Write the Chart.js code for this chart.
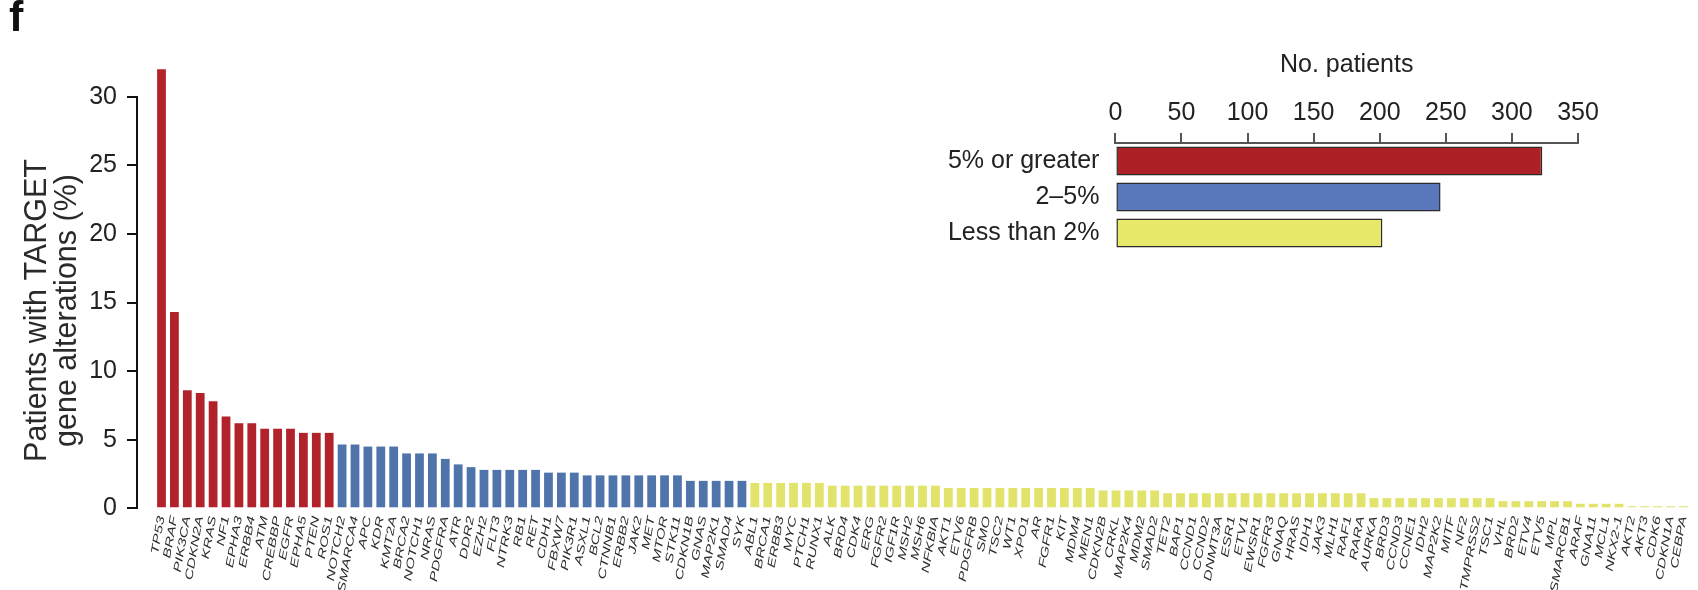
<!DOCTYPE html>
<html>
<head>
<meta charset="utf-8">
<script src="https://cdn.jsdelivr.net/npm/chart.js@4.4.1/dist/chart.umd.min.js"></script>
<style>
  html, body { margin: 0; padding: 0; background: #ffffff; }
  #wrap { position: relative; width: 1698px; height: 590px; overflow: hidden; }
  #main { position: absolute; left: 0; top: 0; }
  #inset { position: absolute; left: 860px; top: 40px; }
  #panel { position: absolute; left: 9px; top: -5px; font: bold 43px/42px "Liberation Sans", Arial, sans-serif; color: #111; }
</style>
</head>
<body>
<div id="wrap">
  <canvas id="main" width="1698" height="590"></canvas>
  <canvas id="inset" width="780" height="250"></canvas>
  <div id="panel">f</div>
</div>
<script>
// Genes with TARGET alterations, grouped by how often they are altered
const genesHigh = ['TP53', 'BRAF', 'PIK3CA', 'CDKN2A', 'KRAS', 'NF1', 'EPHA3', 'ERBB4', 'ATM', 'CREBBP', 'EGFR', 'EPHA5', 'PTEN', 'ROS1'];
const valuesHigh = [32.0, 14.3, 8.6, 8.4, 7.8, 6.7, 6.2, 6.2, 5.8, 5.8, 5.8, 5.5, 5.5, 5.5];

const genesMid = ['NOTCH2', 'SMARCA4', 'APC', 'KDR', 'KMT2A', 'BRCA2', 'NOTCH1', 'NRAS', 'PDGFRA', 'ATR', 'DDR2', 'EZH2', 'FLT3', 'NTRK3', 'RB1', 'RET', 'CDH1', 'FBXW7', 'PIK3R1', 'ASXL1', 'BCL2', 'CTNNB1', 'ERBB2', 'JAK2', 'MET', 'MTOR', 'STK11', 'CDKN1B', 'GNAS', 'MAP2K1', 'SMAD4', 'SYK'];
const valuesMid = [4.65, 4.65, 4.5, 4.5, 4.5, 4.0, 4.0, 4.0, 3.6, 3.2, 3.0, 2.8, 2.8, 2.8, 2.8, 2.8, 2.6, 2.6, 2.6, 2.4, 2.4, 2.4, 2.4, 2.4, 2.4, 2.4, 2.4, 2.0, 2.0, 2.0, 2.0, 2.0];

const genesLow = ['ABL1', 'BRCA1', 'ERBB3', 'MYC', 'PTCH1', 'RUNX1', 'ALK', 'BRD4', 'CDK4', 'ERG', 'FGFR2', 'IGF1R', 'MSH2', 'MSH6', 'NFKBIA', 'AKT1', 'ETV6', 'PDGFRB', 'SMO', 'TSC2', 'WT1', 'XPO1', 'AR', 'FGFR1', 'KIT', 'MDM4', 'MEN1', 'CDKN2B', 'CRKL', 'MAP2K4', 'MDM2', 'SMAD2', 'TET2', 'BAP1', 'CCND1', 'CCND2', 'DNMT3A', 'ESR1', 'ETV1', 'EWSR1', 'FGFR3', 'GNAQ', 'HRAS', 'IDH1', 'JAK3', 'MLH1', 'RAF1', 'RARA', 'AURKA', 'BRD3', 'CCND3', 'CCNE1', 'IDH2', 'MAP2K2', 'MITF', 'NF2', 'TMPRSS2', 'TSC1', 'VHL', 'BRD2', 'ETV4', 'ETV5', 'MPL', 'SMARCB1', 'ARAF', 'GNA11', 'MCL1', 'NKX2-1', 'AKT2', 'AKT3', 'CDK6', 'CDKN1A', 'CEBPA'];
const valuesLow = [1.85, 1.85, 1.85, 1.85, 1.85, 1.85,
  1.65, 1.65, 1.65, 1.65, 1.65, 1.65, 1.65, 1.65, 1.65,
  1.48, 1.48, 1.48, 1.48, 1.48, 1.48, 1.48, 1.48, 1.48, 1.48, 1.48, 1.48,
  1.3, 1.3, 1.3, 1.3, 1.3,
  1.1, 1.1, 1.1, 1.1, 1.1, 1.1, 1.1, 1.1, 1.1, 1.1, 1.1, 1.1, 1.1, 1.1, 1.1, 1.1,
  0.74, 0.74, 0.74, 0.74, 0.74, 0.74, 0.74, 0.74, 0.74, 0.74,
  0.52, 0.52, 0.52, 0.52, 0.52, 0.52,
  0.33, 0.33, 0.33, 0.33,
  0.15, 0.15, 0.15, 0.15, 0.15];

const yTicks = [0, 5, 10, 15, 20, 25, 30];
const yTitleLines = ['Patients with TARGET', 'gene alterations (%)'];

// Inset: number of patients by most frequent alteration tier
const tierLabels = ['5% or greater', '2\u20135%', 'Less than 2%'];
const tierPatients = [323, 246, 202];
const patientTicks = [0, 50, 100, 150, 200, 250, 300, 350];

const colHigh = '#b2222a';
const colMid = '#4f74ab';
const colLow = '#e1e36a';

const allGenes = genesHigh.concat(genesMid, genesLow);
const offsetMid = genesHigh.length;
const offsetLow = offsetMid + genesMid.length;
const toPoints = (vals, start) => vals.map((v, i) => ({ x: start + i, y: v }));

const SANS = '"Liberation Sans", Arial, sans-serif';

// Gene names under the bars (rotated, drawn along the x scale) and the
// two-line y-axis title centred on the 0-30 span of the axis
const annotations = {
  id: 'annotations',
  afterDraw(chart) {
    const xs = chart.scales.x;
    const ys = chart.scales.y;
    const ctx = chart.ctx;
    const y0 = chart.chartArea.bottom + 8;
    ctx.save();
    ctx.font = 'italic 11px ' + SANS;
    ctx.fillStyle = '#2c2c2c';
    ctx.textAlign = 'right';
    ctx.textBaseline = 'middle';
    allGenes.forEach((g, i) => {
      ctx.save();
      ctx.translate(xs.getPixelForValue(i), y0);
      ctx.rotate(-80 * Math.PI / 180);
      ctx.scale(1.45, 1);
      ctx.fillText(g, 0, 0);
      ctx.restore();
    });
    ctx.restore();

    const mid = (ys.getPixelForValue(yTicks[0]) + ys.getPixelForValue(yTicks[yTicks.length - 1])) / 2 + 8;
    ctx.save();
    ctx.font = '30.5px ' + SANS;
    ctx.fillStyle = '#2a2a2a';
    ctx.textAlign = 'center';
    ctx.textBaseline = 'middle';
    yTitleLines.forEach((line, k) => {
      ctx.save();
      ctx.translate(38 + k * 30, mid);
      ctx.rotate(-Math.PI / 2);
      ctx.fillText(line, 0, 0);
      ctx.restore();
    });
    ctx.restore();
  }
};

new Chart(document.getElementById('main'), {
  type: 'bar',
  data: {
    datasets: [
      { label: tierLabels[0], data: toPoints(valuesHigh, 0), backgroundColor: colHigh },
      { label: tierLabels[1], data: toPoints(valuesMid, offsetMid), backgroundColor: colMid },
      { label: tierLabels[2], data: toPoints(valuesLow, offsetLow), backgroundColor: colLow }
    ]
  },
  options: {
    responsive: false,
    animation: false,
    devicePixelRatio: 1,
    grouped: false,
    barPercentage: 0.68,
    categoryPercentage: 1,
    clip: false,
    layout: { padding: { left: 0, top: 96.7, right: 8, bottom: 81.7 } },
    plugins: { legend: { display: false }, tooltip: { enabled: false } },
    scales: {
      x: {
        type: 'linear',
        min: -1.9,
        max: 118.5,
        offset: false,
        display: false
      },
      y: {
        min: 0,
        max: 30,
        afterBuildTicks(scale) { scale.ticks = yTicks.map(v => ({ value: v })); },
        afterFit(scale) { scale.width = 137; },
        ticks: { font: { family: SANS, size: 25 }, color: '#222', padding: 10 },
        grid: { drawOnChartArea: false, drawTicks: true, tickLength: 10, color: '#111', lineWidth: 2 },
        border: { display: true, color: '#111', width: 2 }
      }
    }
  },
  plugins: [annotations]
});

new Chart(document.getElementById('inset'), {
  type: 'bar',
  data: {
    labels: tierLabels,
    datasets: [{
      data: tierPatients,
      backgroundColor: ['#ad2026', '#5b78bc', '#e8e86a'],
      borderColor: '#2a2a2a',
      borderWidth: 1.5,
      borderSkipped: false,
      barPercentage: 0.81,
      categoryPercentage: 1
    }]
  },
  options: {
    indexAxis: 'y',
    responsive: false,
    animation: false,
    devicePixelRatio: 1,
    layout: { padding: { left: 0, top: 0, right: 62, bottom: 39 } },
    plugins: { legend: { display: false }, tooltip: { enabled: false } },
    scales: {
      x: {
        position: 'top',
        min: 0,
        max: 350,
        afterBuildTicks(scale) { scale.ticks = patientTicks.map(v => ({ value: v })); },
        afterFit(scale) { scale.height = 103; },
        ticks: { font: { family: SANS, size: 25 }, color: '#222', padding: 5 },
        grid: { drawOnChartArea: false, drawTicks: true, tickLength: 10, color: '#555', lineWidth: 2 },
        border: { display: true, color: '#555', width: 2 },
        title: {
          display: true,
          text: 'No. patients',
          font: { family: SANS, size: 25 },
          color: '#222',
          padding: { top: 10, bottom: 0 }
        }
      },
      y: {
        afterFit(scale) { scale.width = 255.4; },
        ticks: { font: { family: SANS, size: 25 }, color: '#222', padding: 8 },
        grid: { display: false },
        border: { display: false }
      }
    }
  }
});
</script>
</body>
</html>
